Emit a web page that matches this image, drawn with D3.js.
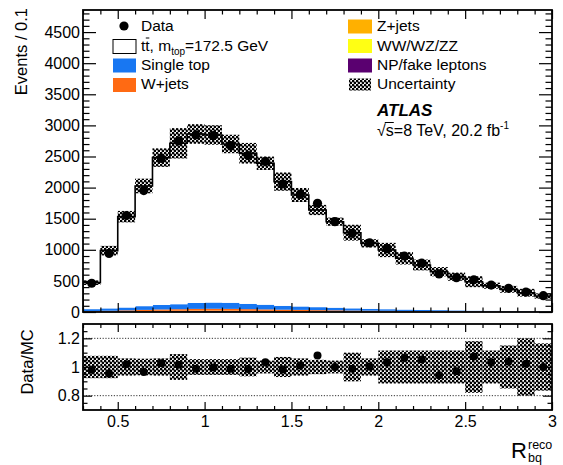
<!DOCTYPE html>
<html><head><meta charset="utf-8">
<script src="https://cdn.jsdelivr.net/npm/d3@7"></script>
<style>body{margin:0;background:#fff} text{font-family:"Liberation Sans",Arial,Helvetica,sans-serif}</style>
</head><body>
<svg id="c" width="563" height="465" xmlns="http://www.w3.org/2000/svg"></svg>
<script>
// ---- data ----
const binCenters = [0.35,0.45,0.55,0.65,0.75,0.85,0.95,1.05,1.15,1.25,1.35,1.45,1.55,1.65,1.75,1.85,1.95,2.05,2.15,2.25,2.35,2.45,2.55,2.65,2.75,2.85,2.95];
const binWidth = 0.1;
const fakes     = [5,6,8,10,12,13,14,14,13,12,11,10,9,8,7,6,6,5,5,4,4,3,3,3,2,2,2];
const diboson   = [1,1,1,1,1,1,1,1,1,1,1,1,1,1,1,1,1,1,1,1,1,1,1,1,1,1,1];
const zjets     = [2,3,4,5,6,6,7,7,7,6,6,5,5,4,4,3,3,3,2,2,2,2,1,1,1,1,1];
const wjets     = [8,10,14,18,22,25,28,30,29,27,24,21,19,17,15,13,11,10,9,8,7,6,5,5,4,4,3];
const singleTop = [30,38,45,60,72,80,95,100,98,85,75,62,55,48,42,36,30,26,22,19,16,14,12,10,9,8,7];
const ttbar     = [425,928,1461,1932,2369,2587,2717,2694,2553,2421,2274,1997,1792,1562,1383,1216,1053,952,824,722,618,542,465,403,348,294,243];
const dataVals  = [462,941,1550,1952,2470,2750,2846,2835,2675,2514,2420,2058,1890,1748,1452,1265,1112,1020,900,785,612,552,518,433,380,320,262];
const ratioVals = [0.98,0.954,1.02,0.965,1.027,1.016,0.988,0.997,0.988,0.986,1.034,0.983,1.011,1.08,1.0,0.988,1.004,1.034,1.062,1.052,0.942,0.97,1.073,1.034,1.039,1.023,1.0];
const relUnc    = [0.078,0.078,0.06,0.058,0.06,0.09,0.055,0.055,0.055,0.065,0.045,0.07,0.06,0.05,0.045,0.1,0.06,0.115,0.115,0.115,0.115,0.115,0.18,0.115,0.15,0.2,0.165];
const yTicks = [0,500,1000,1500,2000,2500,3000,3500,4000,4500];
const yMinor = [100,200,300,400,600,700,800,900,1100,1200,1300,1400,1600,1700,1800,1900,2100,2200,2300,2400,2600,2700,2800,2900,3100,3200,3300,3400,3600,3700,3800,3900,4100,4200,4300,4400,4600,4700,4800];
const xTicks = [0.5,1,1.5,2,2.5,3];
const xMinor = [0.3,0.4,0.6,0.7,0.8,0.9,1.1,1.2,1.3,1.4,1.6,1.7,1.8,1.9,2.1,2.2,2.3,2.4,2.6,2.7,2.8,2.9];
const rTicks = [0.8,1,1.2];
const rMinor = [0.75,0.85,0.9,0.95,1.05,1.1,1.15,1.25];
const rLines = [0.8,1,1.2];

const stackNames = ["NP/fake leptons","WW/WZ/ZZ","Z+jets","W+jets","Single top","tt"];
const stackSeries = [fakes,diboson,zjets,wjets,singleTop,ttbar];
const stackColors = ["#5a0070","#ffff14","#ffb000","#ff6a13","#1877f2","#ffffff"];

// ---- layout ----
const L = 83, R = 552, T = 10, B = 312, RT = 324, RB = 410;
const svg = d3.select("#c");
const FONT = '"Liberation Sans",Arial,Helvetica,sans-serif';

const defs = svg.append("defs");
const pat = defs.append("pattern").attr("id","unc").attr("patternUnits","userSpaceOnUse").attr("width",4).attr("height",4);
pat.append("circle").attr("cx",1).attr("cy",1).attr("r",1.38).attr("fill","#000");
pat.append("circle").attr("cx",3).attr("cy",3).attr("r",1.38).attr("fill","#000");
defs.append("clipPath").attr("id","mclip").append("rect").attr("x",L).attr("y",T).attr("width",R-L).attr("height",B-T);
defs.append("clipPath").attr("id","rclip").append("rect").attr("x",L).attr("y",RT).attr("width",R-L).attr("height",RB-RT);

const x = d3.scaleLinear().domain([0.3,3]).range([L,R]);
const y = d3.scaleLinear().domain([0,4855]).range([B,T]);
const yr = d3.scaleLinear().domain([0.7,1.3]).range([RB,RT]);

// stack
const rows = binCenters.map((c,i)=>{const o={c}; stackNames.forEach((n,k)=>o[n]=stackSeries[k][i]); return o;});
const stacked = d3.stack().keys(stackNames)(rows);
const total = stacked[stacked.length-1].map(d=>d[1]);

const main = svg.append("g").attr("clip-path","url(#mclip)");
stacked.forEach((s,k)=>{
  main.append("g").selectAll("rect").data(s).join("rect")
    .attr("x",d=>x(d.data.c-binWidth/2)).attr("width",d=>x(d.data.c+binWidth/2)-x(d.data.c-binWidth/2)+0.4)
    .attr("y",d=>y(d[1])).attr("height",d=>Math.max(0,y(d[0])-y(d[1])))
    .attr("fill",stackColors[k]).attr("stroke","none");
});
// outline of total (step)
const stepPts = [];
binCenters.forEach((c,i)=>{stepPts.push([x(c-binWidth/2),y(total[i])]);stepPts.push([x(c+binWidth/2),y(total[i])]);});
const stepLine = [[x(binCenters[0]-binWidth/2),y(0)],...stepPts,[x(binCenters[binCenters.length-1]+binWidth/2),y(0)]];
main.append("path").attr("d",d3.line()(stepLine)).attr("fill","none").attr("stroke","#000").attr("stroke-width",1.6);
// uncertainty band main
main.append("g").selectAll("rect").data(binCenters).join("rect")
  .attr("x",(c)=>x(c-binWidth/2)).attr("width",(c)=>x(c+binWidth/2)-x(c-binWidth/2))
  .attr("y",(c,i)=>y(total[i]*(1+relUnc[i]))).attr("height",(c,i)=>y(total[i]*(1-relUnc[i]))-y(total[i]*(1+relUnc[i])))
  .attr("fill","url(#unc)");
// data points
main.append("g").selectAll("circle").data(binCenters).join("circle")
  .attr("cx",c=>x(c)).attr("cy",(c,i)=>y(dataVals[i])).attr("r",4.6).attr("fill","#000");

// ratio panel
const rp = svg.append("g").attr("clip-path","url(#rclip)");
rp.append("g").selectAll("line").data(rLines).join("line")
  .attr("x1",L).attr("x2",R).attr("y1",d=>yr(d)).attr("y2",d=>yr(d))
  .attr("stroke","#333").attr("stroke-width",1).attr("stroke-dasharray","1.2,1.6");
rp.append("g").selectAll("rect").data(binCenters).join("rect")
  .attr("x",(c)=>x(c-binWidth/2)).attr("width",(c)=>x(c+binWidth/2)-x(c-binWidth/2))
  .attr("y",(c,i)=>yr(1+relUnc[i])).attr("height",(c,i)=>yr(1-relUnc[i])-yr(1+relUnc[i]))
  .attr("fill","url(#unc)");
rp.append("g").selectAll("circle").data(binCenters).join("circle")
  .attr("cx",c=>x(c)).attr("cy",(c,i)=>yr(ratioVals[i])).attr("r",4).attr("fill","#000");

// axes helper
function styleAxis(g){g.select(".domain").remove(); g.selectAll("line").attr("stroke","#000").attr("stroke-width",1.2); g.selectAll("text").attr("font-family",FONT).attr("font-size",16).attr("fill","#000"); g.attr("font-family",FONT);}
// main axes
svg.append("g").attr("transform",`translate(${L},0)`).call(d3.axisLeft(y).tickValues(yTicks).tickFormat(d3.format("d")).tickSizeInner(-13).tickSizeOuter(0).tickPadding(3)).call(styleAxis);
svg.append("g").attr("transform",`translate(${L},0)`).call(d3.axisLeft(y).tickValues(yMinor).tickFormat("").tickSizeInner(-6.5).tickSizeOuter(0)).call(styleAxis);
svg.append("g").attr("transform",`translate(${R},0)`).call(d3.axisRight(y).tickValues(yTicks).tickFormat("").tickSizeInner(-13).tickSizeOuter(0)).call(styleAxis);
svg.append("g").attr("transform",`translate(${R},0)`).call(d3.axisRight(y).tickValues(yMinor).tickFormat("").tickSizeInner(-6.5).tickSizeOuter(0)).call(styleAxis);
svg.append("g").attr("transform",`translate(0,${B})`).call(d3.axisBottom(x).tickValues(xTicks).tickFormat("").tickSizeInner(-9).tickSizeOuter(0)).call(styleAxis);
svg.append("g").attr("transform",`translate(0,${B})`).call(d3.axisBottom(x).tickValues(xMinor).tickFormat("").tickSizeInner(-4.5).tickSizeOuter(0)).call(styleAxis);
svg.append("g").attr("transform",`translate(0,${T})`).call(d3.axisTop(x).tickValues(xTicks).tickFormat("").tickSizeInner(-9).tickSizeOuter(0)).call(styleAxis);
svg.append("g").attr("transform",`translate(0,${T})`).call(d3.axisTop(x).tickValues(xMinor).tickFormat("").tickSizeInner(-4.5).tickSizeOuter(0)).call(styleAxis);
// ratio axes
svg.append("g").attr("transform",`translate(${L},0)`).call(d3.axisLeft(yr).tickValues(rTicks).tickFormat(d=>d===1?"1":d3.format(".1f")(d)).tickSizeInner(-9).tickSizeOuter(0).tickPadding(3)).call(styleAxis);
svg.append("g").attr("transform",`translate(${L},0)`).call(d3.axisLeft(yr).tickValues(rMinor).tickFormat("").tickSizeInner(-4.5).tickSizeOuter(0)).call(styleAxis);
svg.append("g").attr("transform",`translate(${R},0)`).call(d3.axisRight(yr).tickValues(rTicks).tickFormat("").tickSizeInner(-9).tickSizeOuter(0)).call(styleAxis);
svg.append("g").attr("transform",`translate(${R},0)`).call(d3.axisRight(yr).tickValues(rMinor).tickFormat("").tickSizeInner(-4.5).tickSizeOuter(0)).call(styleAxis);
svg.append("g").attr("transform",`translate(0,${RB})`).call(d3.axisBottom(x).tickValues(xTicks).tickFormat(d3.format("")).tickSizeInner(-8).tickSizeOuter(0).tickPadding(6)).call(styleAxis);
svg.append("g").attr("transform",`translate(0,${RB})`).call(d3.axisBottom(x).tickValues(xMinor).tickFormat("").tickSizeInner(-4).tickSizeOuter(0)).call(styleAxis);
svg.append("g").attr("transform",`translate(0,${RT})`).call(d3.axisTop(x).tickValues(xTicks).tickFormat("").tickSizeInner(-8).tickSizeOuter(0)).call(styleAxis);
svg.append("g").attr("transform",`translate(0,${RT})`).call(d3.axisTop(x).tickValues(xMinor).tickFormat("").tickSizeInner(-4).tickSizeOuter(0)).call(styleAxis);

// frames
svg.append("rect").attr("x",L).attr("y",T).attr("width",R-L).attr("height",B-T).attr("fill","none").attr("stroke","#000").attr("stroke-width",1.8);
svg.append("rect").attr("x",L).attr("y",RT).attr("width",R-L).attr("height",RB-RT).attr("fill","none").attr("stroke","#000").attr("stroke-width",1.8);

// axis titles
svg.append("text").attr("transform","translate(27,8) rotate(-90)").attr("text-anchor","end").attr("font-size",16.5).text("Events / 0.1");
svg.append("text").attr("transform","translate(33,362) rotate(-90)").attr("text-anchor","middle").attr("font-size",16.5).text("Data/MC");
svg.append("text").attr("x",511).attr("y",458).attr("font-size",22).text("R");
svg.append("text").attr("x",528).attr("y",449).attr("font-size",12.5).text("reco");
svg.append("text").attr("x",528).attr("y",462).attr("font-size",12.5).text("bq");

// legend
const fs = 15.5;
const rowsY = [31,50.5,70,89];
svg.append("circle").attr("cx",124).attr("cy",26).attr("r",4.6).attr("fill","#000");
svg.append("text").attr("x",141).attr("y",rowsY[0]).attr("font-size",fs).text("Data");
svg.append("rect").attr("x",113).attr("y",39.5).attr("width",23).attr("height",14).attr("fill","#fff").attr("stroke","#000").attr("stroke-width",1);
const ttT = svg.append("text").attr("x",141).attr("y",rowsY[1]).attr("font-size",fs);
ttT.append("tspan").text("tt, m");
ttT.append("tspan").attr("font-size",10).attr("dy",4).text("top");
ttT.append("tspan").attr("dy",-4).text("=172.5 GeV");
{
  const n = ttT.node();
  const s = n.getStartPositionOfChar(1).x, e = n.getEndPositionOfChar(1).x;
  svg.append("line").attr("x1",s+0.5).attr("x2",e-0.3).attr("y1",rowsY[1]-12.5).attr("y2",rowsY[1]-12.5).attr("stroke","#000").attr("stroke-width",1);
}
svg.append("rect").attr("x",113).attr("y",58.5).attr("width",23).attr("height",14).attr("fill",stackColors[4]);
svg.append("text").attr("x",141).attr("y",rowsY[2]).attr("font-size",fs).text("Single top");
svg.append("rect").attr("x",113).attr("y",78).attr("width",23).attr("height",14).attr("fill",stackColors[3]);
svg.append("text").attr("x",141).attr("y",rowsY[3]).attr("font-size",fs).text("W+jets");

const rl = [["Z+jets",stackColors[2]],["WW/WZ/ZZ",stackColors[1]],["NP/fake leptons",stackColors[0]],["Uncertainty","url(#unc)"]];
rl.forEach((d,i)=>{
  const by = rowsY[i]-11.5;
  if(i===3){
    svg.append("rect").attr("x",349).attr("y",by+1).attr("width",22).attr("height",12).attr("fill","#fff");
    svg.append("rect").attr("x",349).attr("y",by+1).attr("width",22).attr("height",12).attr("fill",d[1]);
  } else {
    svg.append("rect").attr("x",348).attr("y",by).attr("width",24).attr("height",14).attr("fill",d[1]);
  }
  svg.append("text").attr("x",377).attr("y",rowsY[i]).attr("font-size",fs).text(d[0]);
});

// ATLAS label
svg.append("text").attr("x",377).attr("y",116).attr("font-size",17).attr("font-weight","bold").attr("font-style","italic").text("ATLAS");
const sq = svg.append("text").attr("x",377).attr("y",136).attr("font-size",16);
sq.append("tspan").text("\u221As=8 TeV, 20.2 fb");
sq.append("tspan").attr("font-size",10).attr("dy",-7).text("-1");
{
  const n = sq.node();
  const s = n.getEndPositionOfChar(0).x - 1, e = n.getEndPositionOfChar(1).x;
  svg.append("line").attr("x1",s).attr("x2",e).attr("y1",136-13.5).attr("y2",136-13.5).attr("stroke","#000").attr("stroke-width",1);
}
</script>
</body></html>
